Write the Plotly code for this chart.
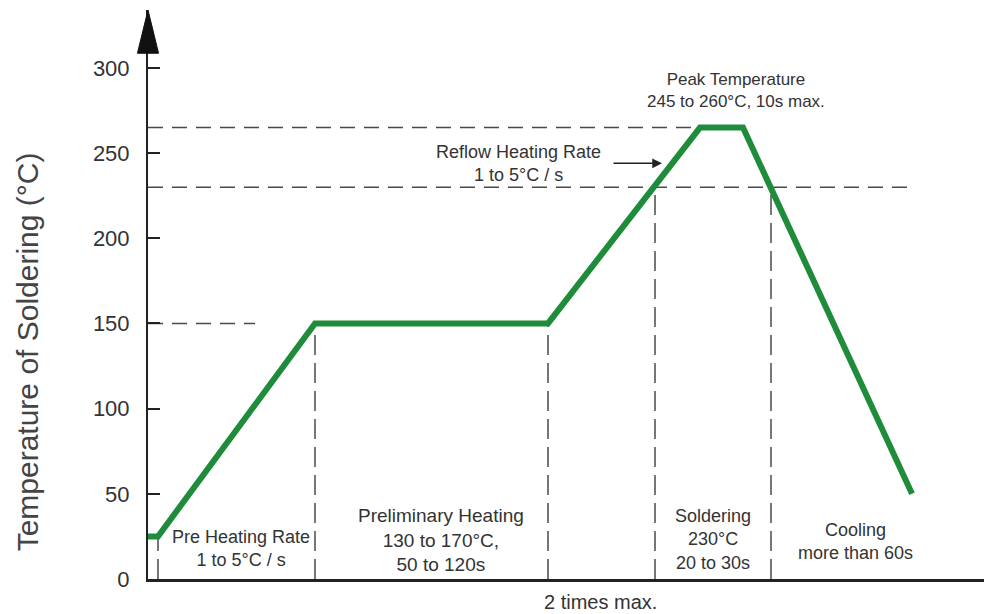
import plotly.graph_objects as go

# Reflow soldering profile (time in arbitrary units, temperature in °C)
time = [0, 10, 167, 400, 552, 595, 764]
temp = [25, 25, 150, 150, 265, 265, 50]

# Reference dashed lines
h_levels = [265, 230, 150]
h_ends = [552, 760, 107]
v_times = [10, 167, 400, 507, 623]
v_tops = [25, 150, 150, 230, 230]

y_ticks = [0, 50, 100, 150, 200, 250, 300]

# Phase labels
label_x = [93, 293, 565, 707]
label_y = [18, 23, 23, 22]
label_size = [18, 19, 18, 18]
label_text = [
    "Pre Heating Rate<br>1 to 5°C / s",
    "Preliminary Heating<br>130 to 170°C,<br>50 to 120s",
    "Soldering<br>230°C<br>20 to 30s",
    "Cooling<br>more than 60s",
]
peak_label = "Peak Temperature<br>245 to 260°C, 10s max."
peak_x, peak_y = 588, 287
reflow_label = "Reflow Heating Rate<br>1 to 5°C / s"
reflow_x, reflow_y = 370, 244
reflow_arrow_x, reflow_arrow_y = 514, 244
bottom_label = "2 times max."
bottom_x = 452
y_title = "Temperature of Soldering (°C)"

FONT = "Liberation Sans, Arial, sans-serif"
TXT = "#333333"
DASH_COL = "#4a4a4a"

fig = go.Figure()
fig.add_trace(go.Scatter(x=time, y=temp, mode="lines",
                         line=dict(color="#1e8c3a", width=6),
                         hoverinfo="skip", showlegend=False))

shapes = []
for lvl, end in zip(h_levels, h_ends):
    shapes.append(dict(type="line", xref="x", yref="y", x0=0, x1=end, y0=lvl, y1=lvl,
                       line=dict(color=DASH_COL, width=1.5, dash="15px,9px"), layer="below"))
for t, top in zip(v_times, v_tops):
    shapes.append(dict(type="line", xref="x", yref="y", x0=t, x1=t, y0=0, y1=top,
                       line=dict(color=DASH_COL, width=1.5, dash="20px,8px"), layer="below"))
# arrow head on top of the y axis
shapes.append(dict(type="path", xref="paper", yref="paper",
                   path="M -0.0125 0.924 L 0 1.0 L 0.0125 0.924 Z",
                   fillcolor="#111111", line=dict(color="#111111", width=1)))

annotations = []
for x, y, t, s in zip(label_x, label_y, label_text, label_size):
    annotations.append(dict(x=x, y=y, xref="x", yref="y", text=t, showarrow=False,
                            font=dict(family=FONT, size=s, color=TXT), align="center"))
annotations.append(dict(x=peak_x, y=peak_y, xref="x", yref="y", text=peak_label, showarrow=False,
                        font=dict(family=FONT, size=17, color=TXT), align="center"))
annotations.append(dict(x=reflow_x, y=reflow_y, xref="x", yref="y", text=reflow_label, showarrow=False,
                        font=dict(family=FONT, size=18, color=TXT), align="center"))
annotations.append(dict(x=reflow_arrow_x, y=reflow_arrow_y, xref="x", yref="y", text="",
                        showarrow=True, ax=-50, ay=0, arrowhead=2, arrowsize=1.3,
                        arrowwidth=1.5, arrowcolor="#222222"))
annotations.append(dict(x=bottom_x, y=-0.041, xref="x", yref="paper", yanchor="middle",
                        text=bottom_label, showarrow=False,
                        font=dict(family=FONT, size=20, color=TXT)))
annotations.append(dict(x=-0.1434, y=0.40, xref="paper", yref="paper", xanchor="center",
                        yanchor="middle", textangle=-90, text=y_title, showarrow=False,
                        font=dict(family=FONT, size=30, color="#444444")))

fig.update_layout(
    width=992, height=614,
    margin=dict(l=140, r=8, t=2, b=43),
    paper_bgcolor="white", plot_bgcolor="white",
    shapes=shapes, annotations=annotations,
    xaxis=dict(range=[0, 844], showgrid=False, zeroline=False, showticklabels=False,
               ticks="", showline=True, linecolor="#222222", linewidth=2.5),
    yaxis=dict(range=[0, 334], tickvals=y_ticks, showgrid=False, zeroline=False,
               ticks="inside", ticklen=12, tickwidth=1.5, tickcolor="#222222",
               showline=True, linecolor="#222222", linewidth=2,
               tickfont=dict(family=FONT, size=22, color=TXT),
               ticklabelstandoff=12),
)

fig.write_html("out.html")
